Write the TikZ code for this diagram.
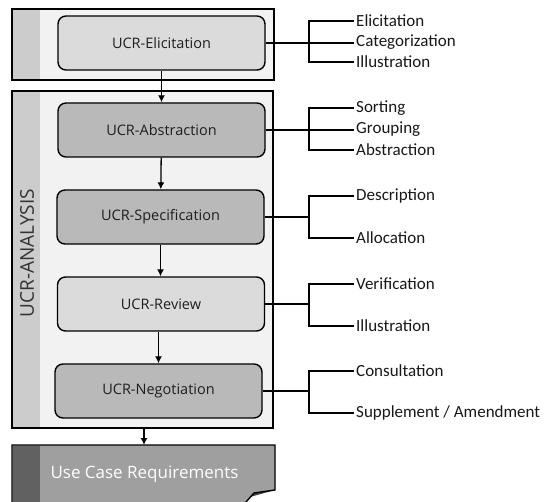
\documentclass[tikz,border=0pt]{standalone}
\usepackage{fontspec}
\setmainfont{Carlito}
\newfontfamily\boxfont{Open Sans}
\usetikzlibrary{arrows.meta}
\begin{document}
\begin{tikzpicture}[x=1bp,y=-1bp,
  outer/.style={draw=black,line width=1.4bp,fill=gray!10},
  stripe/.style={fill=gray!40,draw=none},
  stepbox/.style={draw=black,line width=1.4bp,rounded corners=8bp,minimum width=207bp,minimum height=54bp,font=\boxfont\fontsize{14.5bp}{16bp}\selectfont,text=black!88},
  lightbox/.style={stepbox,fill=gray!28},
  darkbox/.style={stepbox,fill=gray!55},
  conn/.style={draw=black,line width=1.3bp},
  flow/.style={draw=black,line width=1.3bp,-{Latex[length=7bp,width=7bp]}},
  lbl/.style={anchor=west,inner sep=0pt,font=\fontsize{17bp}{19bp}\selectfont,text=black!90}]
\useasboundingbox (0,0) rectangle (547,502);
\fill[white] (0,0) rectangle (547,502);
% top container
\draw[outer] (12,9) rectangle (274,80);
\fill[stripe] (13,10) rectangle (40,79);
\draw[line width=1.4bp] (12,9) rectangle (274,80);
% analysis container
\draw[outer] (12,91) rectangle (273,428);
\fill[stripe] (13,92) rectangle (40,427);
\draw[line width=1.4bp] (12,91) rectangle (273,428);
\node[rotate=90,font=\boxfont\fontsize{19bp}{21bp}\selectfont,text=black!80] (ana) at (27,253) {UCR-ANALYSIS};
% document
\coordinate (fa) at (246,502);
\fill[gray!75] (12,445) -- (275,445) -- (275,490) -- (254,493) -- (246,502) -- (12,502) -- cycle;
\fill[black!62] (13,446) rectangle (40,502);
\fill[black!75] (275,490) -- (254,493) -- (250,497) -- cycle;
\draw[line width=1.4bp] (12,502) -- (12,445) -- (275,445) -- (275,490) -- (254,493) -- (fa);
\node[anchor=west,text=white,font=\boxfont\fontsize{17bp}{19bp}\selectfont] (ucr) at (47,474) {Use Case Requirements};
% step boxes
\node[lightbox] (eli) at (161.5,43) {UCR-Elicitation};
\node[darkbox] (abs) at (161.5,130) {UCR-Abstraction};
\node[darkbox] (spe) at (160.5,217) {UCR-Specification};
\node[lightbox] (rev) at (161,304) {UCR-Review};
\node[darkbox] (neg) at (158.5,391) {UCR-Negotiation};
\coordinate (anabot) at (144,428);
\coordinate (doctop) at (144,445);
\draw[flow] (eli) -- (abs);
\draw[flow] (abs) -- (spe);
\draw[flow] (spe) -- (rev.north -| spe);
\draw[flow] (rev.south -| neg) -- (neg);
\draw[flow] (anabot) -- (doctop);
% right side labels
\node[lbl] (l1) at (356,21) {Elicitation};
\node[lbl] (l2) at (356,42) {Categorization};
\node[lbl] (l3) at (356,62) {Illustration};
\node[lbl] (l4) at (356,108) {Sorting};
\node[lbl] (l5) at (356,129) {Grouping};
\node[lbl] (l6) at (356,150) {Abstraction};
\node[lbl] (l7) at (356,196) {Description};
\node[lbl] (l8) at (356,238) {Allocation};
\node[lbl] (l9) at (356,284) {Verification};
\node[lbl] (l10) at (356,326) {Illustration};
\node[lbl] (l11) at (356,371) {Consultation};
\node[lbl] (l12) at (356,413) {Supplement / Amendment};
% brackets
\coordinate (bx) at (354,0);
\coordinate (vx) at (309,0);
\draw[conn] (eli.east) -- (eli.east -| bx);
\draw[conn] (l1.west) ++(-2,0) -- (309,21) -- (309,62) -- ++(45,0);
\draw[conn] (abs.east) -- (abs.east -| bx);
\draw[conn] (l4.west) ++(-2,0) -- (309,108) -- (309,150) -- ++(45,0);
\draw[conn] (spe.east) -- (spe.east -| vx);
\draw[conn] (l7.west) ++(-2,0) -- (309,196) -- (309,238) -- ++(45,0);
\draw[conn] (rev.east) -- (rev.east -| vx);
\draw[conn] (l9.west) ++(-2,0) -- (309,284) -- (309,326) -- ++(45,0);
\draw[conn] (neg.east) -- (neg.east -| vx);
\draw[conn] (l11.west) ++(-2,0) -- (309,371) -- (309,413) -- ++(45,0);
\end{tikzpicture}
\end{document}
